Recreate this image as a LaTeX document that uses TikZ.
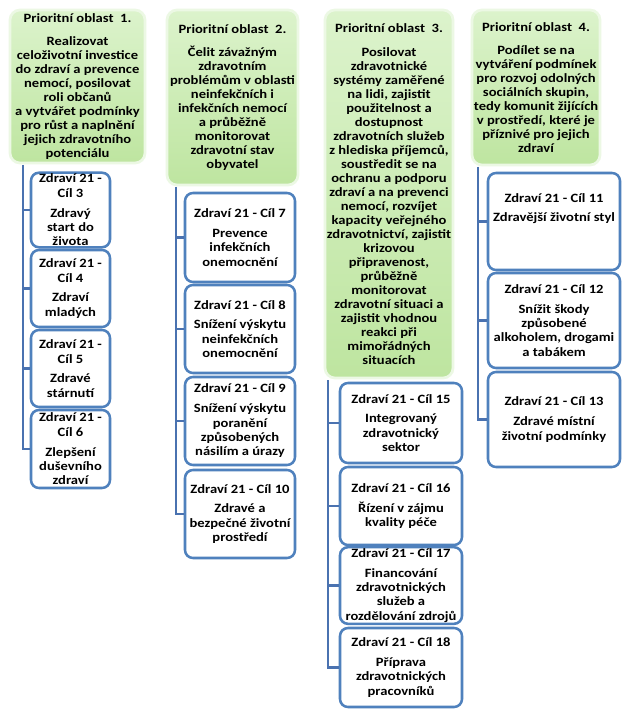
\documentclass[tikz,border=0pt]{standalone}
\usepackage{fontspec}
\setmainfont{Carlito}[FakeStretch=1.15]
\definecolor{boxblue}{RGB}{79,129,189}
\definecolor{lineblue}{RGB}{74,114,176}
\definecolor{gtop}{RGB}{220,243,204}
\definecolor{gbot}{RGB}{190,229,160}
\definecolor{glow}{RGB}{236,248,228}
\tikzset{
  hdrbox/.style={rectangle, rounded corners=7.5pt, top color=gtop, bottom color=gbot,
     draw=glow, line width=2pt, inner sep=0pt},
  htxt/.style={align=center, inner sep=0pt, font=\bfseries\fontsize{9.5}{10.5}\selectfont},
  child/.style={rectangle, rounded corners=6pt, draw=boxblue, fill=white, line width=1.9pt,
     align=center, inner sep=1pt, font=\bfseries\fontsize{9.5}{10.8}\selectfont},
  conn/.style={draw=lineblue, line width=2.2pt}
}
\begin{document}
\begin{tikzpicture}[x=0.75pt,y=-0.75pt]
\useasboundingbox[fill=white] (0,0) rectangle (632,716);

% ---- headers
\node[hdrbox, minimum width=135*0.75pt, minimum height=153*0.75pt] (h1) at (77.5,86.5) {};
\node[htxt] (h1t) at (h1.center) {Prioritní oblast\ \ 1.\\[7pt]
Realizovat\\ celoživotní investice\\ do zdraví a prevence\\ nemocí, posilovat\\ roli občanů\\ a vytvářet podmínky\\ pro růst a naplnění\\ jejich zdravotního\\ potenciálu};

\node[hdrbox, minimum width=131*0.75pt, minimum height=175*0.75pt] (h2) at (232.5,97.5) {};
\node[htxt] (h2t) at (h2.center) {Prioritní oblast\ \ 2.\\[7pt]
Čelit závažným\\ zdravotním\\ problémům v oblasti\\ neinfekčních i\\ infekčních nemocí\\ a průběžně\\ monitorovat\\ zdravotní stav\\ obyvatel};

\node[hdrbox, minimum width=128*0.75pt, minimum height=368*0.75pt] (h3) at (389,194) {};
\node[htxt] (h3t) at (h3.center) {Prioritní oblast\ \ 3.\\[7pt]
Posilovat\\ zdravotnické\\ systémy zaměřené\\ na lidi, zajistit\\ použitelnost a\\ dostupnost\\ zdravotních služeb\\ z hlediska příjemců,\\ soustředit se na\\ ochranu a podporu\\ zdraví a na prevenci\\ nemocí, rozvíjet\\ kapacity veřejného\\ zdravotnictví, zajistit\\ krizovou\\ připravenost,\\ průběžně\\ monitorovat\\ zdravotní situaci a\\ zajistit vhodnou\\ reakci při\\ mimořádných\\ situacích};

\node[hdrbox, minimum width=128*0.75pt, minimum height=155*0.75pt] (h4) at (536,87.5) {};
\node[htxt] (h4t) at (h4.center) {Prioritní oblast\ \ 4.\\[7pt]
Podílet se na\\ vytváření podmínek\\ pro rozvoj odolných\\ sociálních skupin,\\ tedy komunit žijících\\ v prostředí, které je\\ příznivé pro jejich\\ zdraví};

% ---- column 1
\node[child, minimum width=79*0.75pt, minimum height=74*0.75pt] (c3) at (70.5,210) {Zdraví 21 -\\ Cíl 3\\[4pt] Zdravý\\ start do\\ života};
\node[child, minimum width=79*0.75pt, minimum height=77*0.75pt] (c4) at (70.5,288.5) {Zdraví 21 -\\ Cíl 4\\[4pt] Zdraví\\ mladých};
\node[child, minimum width=79*0.75pt, minimum height=77*0.75pt] (c5) at (70.5,368.5) {Zdraví 21 -\\ Cíl 5\\[4pt] Zdravé\\ stárnutí};
\node[child, minimum width=79*0.75pt, minimum height=78*0.75pt] (c6) at (70.5,449) {Zdraví 21 -\\ Cíl 6\\[4pt] Zlepšení\\ duševního\\ zdraví};

% ---- column 2
\node[child, minimum width=110*0.75pt, minimum height=89*0.75pt] (c7) at (240,237.5) {Zdraví 21 - Cíl 7\\[4pt] Prevence\\ infekčních\\ onemocnění};
\node[child, minimum width=110*0.75pt, minimum height=88*0.75pt] (c8) at (240,329) {Zdraví 21 - Cíl 8\\[4pt] Snížení výskytu\\ neinfekčních\\ onemocnění};
\node[child, minimum width=110*0.75pt, minimum height=88*0.75pt] (c9) at (240,421) {Zdraví 21 - Cíl 9\\[4pt] Snížení výskytu\\ poranění\\ způsobených\\ násilím a úrazy};
\node[child, minimum width=110*0.75pt, minimum height=88*0.75pt] (c10) at (240,514) {Zdraví 21 - Cíl 10\\[4pt] Zdravé a\\ bezpečné životní\\ prostředí};

% ---- column 3
\node[child, minimum width=122*0.75pt, minimum height=80*0.75pt] (c15) at (401,423) {Zdraví 21 - Cíl 15\\[4pt] Integrovaný\\ zdravotnický\\ sektor};
\node[child, minimum width=122*0.75pt, minimum height=78*0.75pt] (c16) at (401,506) {Zdraví 21 - Cíl 16\\[4pt] Řízení v zájmu\\ kvality péče};
\node[child, minimum width=122*0.75pt, minimum height=75*0.75pt] (c17) at (401,585.5) {Zdraví 21 - Cíl 17\\[4pt] Financování\\ zdravotnických\\ služeb a\\ rozdělování zdrojů};
\node[child, minimum width=122*0.75pt, minimum height=79*0.75pt] (c18) at (401,667.5) {Zdraví 21 - Cíl 18\\[4pt] Příprava\\ zdravotnických\\ pracovníků};

% ---- column 4
\node[child, minimum width=132*0.75pt, minimum height=97*0.75pt] (c11) at (554,221.5) {Zdraví 21 - Cíl 11\\[4pt] Zdravější životní styl\\[10pt]};
\node[child, minimum width=132*0.75pt, minimum height=95*0.75pt] (c12) at (554,320.5) {Zdraví 21 - Cíl 12\\[4pt] Snížit škody\\ způsobené\\ alkoholem, drogami\\ a tabákem};
\node[child, minimum width=132*0.75pt, minimum height=95*0.75pt] (c13) at (554,419.5) {Zdraví 21 - Cíl 13\\[4pt] Zdravé místní\\ životní podmínky};

% ---- connectors
\coordinate (l1) at (23,165);
\coordinate (l2) at (176,187);
\coordinate (l3) at (328,380);
\coordinate (l4) at (478,167);
\draw[conn] (l1) |- (c3.west) (l1) |- (c4.west) (l1) |- (c5.west) (l1) |- (c6.west);
\draw[conn] (l2) |- (c7.west) (l2) |- (c8.west) (l2) |- (c9.west) (l2) |- (c10.west);
\draw[conn] (l3) |- (c15.west) (l3) |- (c16.west) (l3) |- (c17.west) (l3) |- (c18.west);
\draw[conn] (l4) |- (c11.west) (l4) |- (c12.west) (l4) |- (c13.west);
\end{tikzpicture}
\end{document}
